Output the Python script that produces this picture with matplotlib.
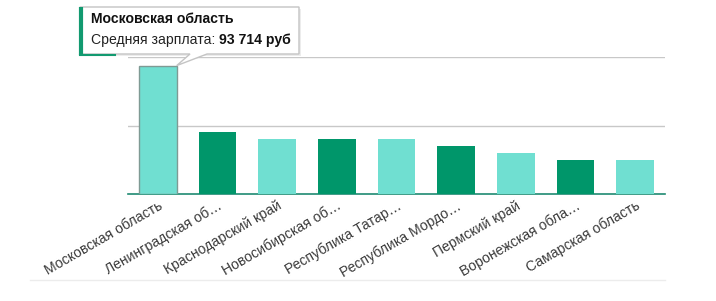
import matplotlib
matplotlib.use("Agg")
import matplotlib.pyplot as plt
from matplotlib.patches import Rectangle, Polygon

plt.rcParams['font.family'] = ['Liberation Sans', 'DejaVu Sans']

regions = ["Московская область", "Ленинградская об…", "Краснодарский край",
           "Новосибирская об…", "Республика Татар…", "Республика Мордо…",
           "Пермский край", "Воронежская обла…", "Самарская область"]
salary = [93714, 45600, 40400, 40300, 40300, 35000, 30100, 25000, 24900]
colors = ["#70dfd1", "#00966a"] * 5
tip_title = "Московская область"
tip_label = "Средняя зарплата: "
tip_value = "93 714 руб"

W, H = 716, 301
fig = plt.figure(figsize=(W / 100, H / 100), dpi=100)
ax = fig.add_axes([128 / W, 1 - 194.3 / H, 537 / W, 137.3 / H])

x = range(len(regions))
bars = ax.bar(x, salary, width=0.63, color=colors[:len(regions)], zorder=3)
bars[0].set_edgecolor("#7f9a94")
bars[0].set_linewidth(1.0)

ax.set_xlim(-0.5, len(regions) - 0.5)
ax.set_ylim(0, 100000)
ax.set_yticks([50000, 100000])
ax.yaxis.grid(True, color="#c8c8c8", linewidth=1.0, zorder=0)
ax.tick_params(axis="y", left=False, labelleft=False)
ax.tick_params(axis="x", length=0, pad=3)
for s in ["top", "right", "left"]:
    ax.spines[s].set_visible(False)
ax.spines["bottom"].set_color("#1f8a72")
ax.spines["bottom"].set_linewidth(1.2)

ax.set_xticks(list(x))
ax.set_xticklabels(regions, rotation=30, ha="right", rotation_mode="anchor",
                   fontsize=10.1, color="#3a3a3a")

# overlay in pixel coordinates for the tooltip
ov = fig.add_axes([0, 0, 1, 1], zorder=10)
ov.set_xlim(0, W)
ov.set_ylim(H, 0)
ov.axis("off")

# faint separator line under the labels
ov.plot([30, 665], [280, 280], color="#ececec", linewidth=1)

# tip of the pointer = top right corner of the first bar
px, py = ax.transData.transform((0 + 0.315, salary[0]))
px, py = px, H - py

bx0, by0, bx1, by1 = 80, 7, 299, 54
ov.add_patch(Rectangle((bx0 + 2, by0 + 2), bx1 - bx0, by1 - by0,
                       facecolor="#ececec", edgecolor="none", zorder=1))
ov.add_patch(Polygon([(bx0, by0), (bx1, by0), (bx1, by1), (207, by1),
                      (px, py), (190, by1), (bx0, by1)], closed=True,
                     facecolor="white", edgecolor="#c4c4c4", linewidth=1,
                     zorder=2))
ov.plot([bx0 + 1, bx0 + 1], [by0, by1 + 1], color="#129a70", linewidth=3,
        solid_capstyle="butt", zorder=3)
ov.plot([bx0, bx0 + 35], [by1 + 0.5, by1 + 0.5], color="#129a70",
        linewidth=1.5, zorder=3)

ov.text(91, 19, tip_title, fontsize=10.1, fontweight="bold", color="#111111",
        va="center", ha="left", zorder=4)
t = ov.text(91, 40, tip_label, fontsize=10.1, color="#222222",
            va="center", ha="left", zorder=4)
fig.canvas.draw()
bb = t.get_window_extent()
ov.text(91 + bb.width, 40, tip_value, fontsize=10.1, fontweight="bold",
        color="#111111", va="center", ha="left", zorder=4)

fig.savefig("out.png", dpi=100)
